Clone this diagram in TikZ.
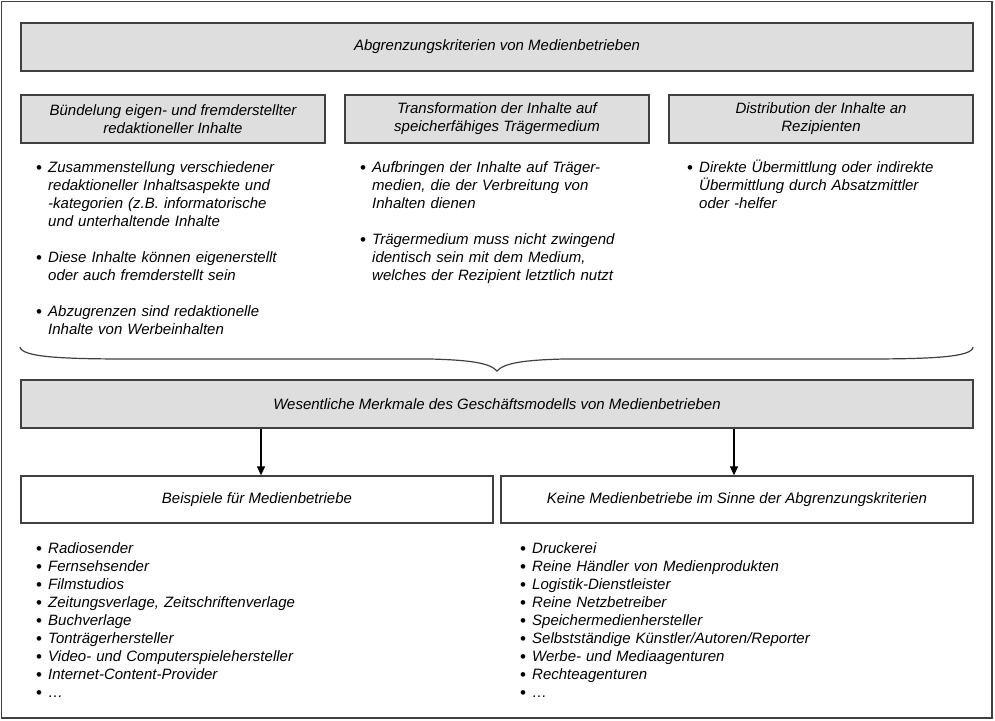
\documentclass[tikz,border=0pt]{standalone}
\usepackage{fontspec}
\setmainfont{Liberation Sans}
\usetikzlibrary{arrows.meta}
\definecolor{boxfill}{HTML}{DEDEDE}
\definecolor{boxline}{HTML}{404040}
\newcommand\txtfont{\fontsize{15}{18}\selectfont\itshape}
\newcommand\bitem[5]{%
  \node[bul] (#1b) at (#2,#4) {•};
  \node[itm] (#1) at (#3,#4) {#5};}
\begin{document}
\begin{tikzpicture}[x=1pt,y=-1pt,
  gbox/.style={draw=boxline,fill=boxfill,line width=1.3pt,inner sep=0pt,align=center,font=\txtfont,text=black},
  wbox/.style={gbox,fill=white},
  bul/.style={anchor=base west,inner sep=0pt,yshift=-1.6pt,font=\fontsize{17}{18}\selectfont},
  itm/.style={anchor=base west,inner sep=0pt,align=left,text width=320pt,font=\txtfont},
  arr/.style={line width=1.3pt,draw=black,-{Triangle[length=9pt,width=8pt]}},
  brace/.style={line width=1.2pt,draw=boxline}]
\useasboundingbox (0,0) rectangle (995,720);
\draw[line width=1.3pt,draw=boxline] (1.5,1.5) rectangle (992,718);

% header
\node[gbox,minimum width=952pt,minimum height=48pt] (head) at (497,47) {Abgrenzungskriterien von Medienbetrieben};

% criteria boxes
\node[gbox,minimum width=304pt,minimum height=48pt] (k1) at (173,119) {Bündelung eigen- und fremderstellter\\redaktioneller Inhalte};
\node[gbox,minimum width=304pt,minimum height=48pt] (k2) at (497,119) {Transformation der Inhalte auf\\speicherfähiges Trägermedium};
\node[gbox,minimum width=304pt,minimum height=48pt] (k3) at (821,119) {Distribution der Inhalte an\\Rezipienten};

% bullet lists under criteria
\bitem{a1}{36}{48}{172}{Zusammenstellung verschiedener\\redaktioneller Inhaltsaspekte und\\-kategorien (z.B. informatorische\\und unterhaltende Inhalte}
\bitem{a2}{36}{48}{262}{Diese Inhalte können eigenerstellt\\oder auch fremderstellt sein}
\bitem{a3}{36}{48}{316}{Abzugrenzen sind redaktionelle\\Inhalte von Werbeinhalten}
\bitem{b1}{360}{372}{172}{Aufbringen der Inhalte auf Träger-\\medien, die der Verbreitung von\\Inhalten dienen}
\bitem{b2}{360}{372}{244}{Trägermedium muss nicht zwingend\\identisch sein mit dem Medium,\\welches der Rezipient letztlich nutzt}
\bitem{c1}{687}{699}{172}{Direkte Übermittlung oder indirekte\\Übermittlung durch Absatzmittler\\oder -helfer}

% brace
\draw[brace] (20,347) .. controls (22,357) and (60,359) .. (130,359)
  -- (430,359) .. controls (470,360) and (490,363) .. (497,371)
  .. controls (504,363) and (524,360) .. (564,359)
  -- (864,359) .. controls (934,359) and (972,357) .. (973,347);

% merkmale
\node[gbox,minimum width=952pt,minimum height=48pt] (merk) at (497,404) {Wesentliche Merkmale des Geschäftsmodells von Medienbetrieben};

% bottom boxes
\node[wbox,minimum width=472pt,minimum height=47pt] (bsp) at (257,499.5) {Beispiele für Medienbetriebe};
\node[wbox,minimum width=472pt,minimum height=47pt] (kein) at (737,499.5) {Keine Medienbetriebe im Sinne der Abgrenzungskriterien};

\draw[arr] (merk.south -| 261,0) -- (bsp.north -| 261,0);
\draw[arr] (merk.south -| 734,0) -- (kein.north -| 734,0);

% lists
\bitem{l1}{36}{48}{553}{Radiosender}
\bitem{l2}{36}{48}{571}{Fernsehsender}
\bitem{l3}{36}{48}{589}{Filmstudios}
\bitem{l4}{36}{48}{607}{Zeitungsverlage, Zeitschriftenverlage}
\bitem{l5}{36}{48}{625}{Buchverlage}
\bitem{l6}{36}{48}{643}{Tonträgerhersteller}
\bitem{l7}{36}{48}{661}{Video- und Computerspielehersteller}
\bitem{l8}{36}{48}{679}{Internet-Content-Provider}
\bitem{l9}{36}{48}{697}{…}

\bitem{r1}{520}{532}{553}{Druckerei}
\bitem{r2}{520}{532}{571}{Reine Händler von Medienprodukten}
\bitem{r3}{520}{532}{589}{Logistik-Dienstleister}
\bitem{r4}{520}{532}{607}{Reine Netzbetreiber}
\bitem{r5}{520}{532}{625}{Speichermedienhersteller}
\bitem{r6}{520}{532}{643}{Selbstständige Künstler/Autoren/Reporter}
\bitem{r7}{520}{532}{661}{Werbe- und Mediaagenturen}
\bitem{r8}{520}{532}{679}{Rechteagenturen}
\bitem{r9}{520}{532}{697}{…}
\end{tikzpicture}
\end{document}
